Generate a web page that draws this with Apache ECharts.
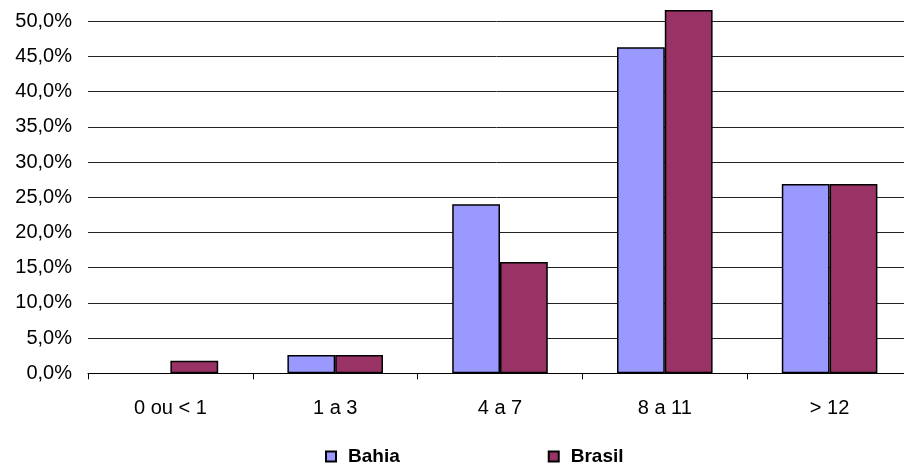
<!DOCTYPE html>
<html>
<head>
<meta charset="utf-8">
<script src="https://cdn.jsdelivr.net/npm/echarts@6/dist/echarts.min.js"></script>
<style>
html,body{margin:0;padding:0;background:#fff;}
#c{width:904px;height:469px;}
</style>
</head>
<body>
<div id="c"></div>
<script>
var categories = ["0 ou < 1", "1 a 3", "4 a 7", "8 a 11", "> 12"];
var bahia = [0, 2.6, 24.0, 46.3, 26.9];
var brasil = [1.8, 2.6, 15.8, 51.6, 26.9];
var seriesNames = ["Bahia", "Brasil"];

function toData(arr) {
  return arr.map(function (v) {
    return v === 0 ? {value: v, itemStyle: {borderWidth: 0}} : v;
  });
}

var chart = echarts.init(document.getElementById('c'), null, {renderer: 'canvas'});
var font = '"Liberation Sans", Arial, sans-serif';
chart.setOption({
  animation: false,
  backgroundColor: '#fff',
  grid: {left: 88, top: 21.3, width: 824, bottom: 95.7, containLabel: false, outerBoundsMode: 'none'},
  legend: {
    data: seriesNames.map(function (n) { return {name: n, icon: 'rect'}; }),
    left: 325,
    top: 447,
    padding: 0,
    itemWidth: 10,
    itemHeight: 10,
    itemGap: 148,
    textStyle: {fontFamily: font, fontSize: 19, fontWeight: 'bold', color: '#000', letterSpacing: -1, padding: [0, 0, 0, 7]},
    selectedMode: false
  },
  xAxis: {
    type: 'category',
    data: categories,
    axisLine: {lineStyle: {color: '#000', width: 1}},
    axisTick: {show: true, length: 6, lineStyle: {color: '#000'}},
    axisLabel: {fontFamily: font, fontSize: 20, color: '#000', margin: 25, letterSpacing: -1}
  },
  yAxis: {
    type: 'value',
    min: 0, max: 50, interval: 5,
    axisLine: {show: false},
    axisTick: {show: false},
    splitLine: {lineStyle: {color: '#222', width: 1}},
    axisLabel: {
      fontFamily: font, fontSize: 20, color: '#000', margin: 16, letterSpacing: -1,
      formatter: function (v) { return v.toFixed(1).replace('.', ',') + '%'; }
    }
  },
  series: [
    {
      name: seriesNames[0], type: 'bar', data: toData(bahia), clip: false,
      barGap: '0%', barCategoryGap: '42%',
      itemStyle: {color: '#9999FF', borderColor: '#000', borderWidth: 1.5}
    },
    {
      name: seriesNames[1], type: 'bar', data: toData(brasil), clip: false,
      barGap: '0%', barCategoryGap: '42%',
      itemStyle: {color: '#993366', borderColor: '#000', borderWidth: 1.5}
    }
  ]
});
</script>
</body>
</html>
